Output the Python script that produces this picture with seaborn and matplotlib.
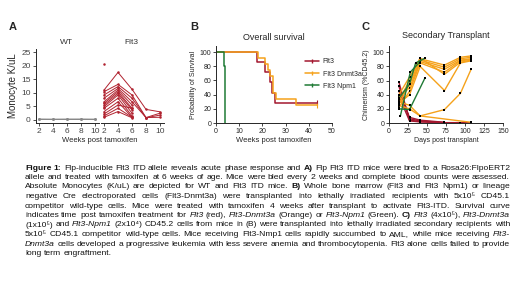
import numpy as np
import pandas as pd
import matplotlib
matplotlib.use("Agg")
import matplotlib.pyplot as plt
import seaborn as sns
from matplotlib.lines import Line2D

# ---------------- data ----------------
# Panel A: monocytes (K/uL) by weeks post tamoxifen
a_weeks = [2, 4, 6, 8, 10]
a_wt = [
    [0.3, 0.3, 0.3, 0.3, 0.3],
    [0.2, 0.2, 0.25, 0.2, 0.2],
    [0.35, 0.3, 0.3, 0.35, 0.3],
]
a_flt3 = [
    [11.0, 17.5, 11.3, 3.9, 3.0],
    [10.4, 13.1, 9.2, 0.9, 2.5],
    [9.2, 12.3, 8.0, 0.8, 1.8],
    [8.0, 11.6, 6.7, 0.9, 1.0],
    [6.7, 11.0, 5.5, None, None],
    [6.1, 10.4, 4.3, None, None],
    [5.5, 9.8, 3.7, None, None],
    [4.9, 9.2, 2.5, None, None],
    [4.3, 8.0, 1.5, None, None],
    [3.1, 6.7, 1.0, None, None],
    [2.2, 5.5, 4.3, None, None],
    [1.5, 4.3, 1.0, None, None],
    [1.0, 3.1, 0.8, None, None],
    [20.6, None, None, None, None],
]

# Panel B: Kaplan-Meier survival (weeks, % surviving)
b_flt3_t = [0, 17.5, 21.0, 23.3, 24.0, 25.6, 43.5]
b_flt3_s = [100, 85.7, 71.4, 57.1, 42.9, 28.6, 28.6]
b_dnmt3a_t = [0, 18.3, 21.2, 22.2, 23.3, 24.6, 26.0, 34.5, 43.5]
b_dnmt3a_s = [100, 91.7, 83.3, 75.0, 66.7, 41.7, 33.3, 25.0, 25.0]
b_npm1_t = [0, 3.6, 4.0]
b_npm1_s = [100, 80, 0]
b_labels = ["Flt3", "Flt3 Dnmt3a", "Flt3 Npm1"]

# Panel C: chimerism (%CD45.2) by days post transplant, one list per mouse
c_days_full = [13, 27, 41, 73, 94, 108]
c_dnmt3a = [
    (c_days_full, [32, 60, 91, 82, 93, 95]),
    (c_days_full, [27, 55, 89, 79, 91, 93]),
    (c_days_full, [36, 50, 87, 76, 89, 91]),
    (c_days_full, [22, 45, 85, 72, 88, 90]),
    (c_days_full, [40, 65, 92, 69, 86, 89]),
    (c_days_full, [28, 40, 80, 46, 85, 88]),
    (c_days_full, [25, 20, 10, 19, 42, 76]),
    ([13, 27, 41, 108], [30, 25, 10, 1]),
]
c_flt3 = [
    (c_days_full, [58, 4, 2, 0.5, 0.5, 0.5]),
    ([13, 27, 41, 73], [52, 6, 3, 0.5]),
    ([13, 27, 41, 73], [45, 8, 4, 1]),
    ([13, 27, 41, 73], [38, 3, 1.5, 0.3]),
]
c_npm1 = [
    ([15, 28, 41], [10, 72, 87]),
    ([13, 27, 47], [20, 19, 63]),
    ([13, 27, 35, 48], [35, 55, 85, 92]),
]

RED = "#a3172f"
RED_A = "#b0222f"
ORANGE = "#f5a21b"
GREEN = "#1f7a35"

caption = [
    "!Figure !1: Flp-inducible Flt3 ITD allele reveals acute phase response and !A) Flp Flt3 ITD mice were bred to a Rosa26:FlpoERT2",
    "allele and treated with tamoxifen at 6 weeks of age. Mice were bled every 2 weeks and complete blood counts were assessed.",
    "Absolute Monocytes (K/uL) are depicted for WT and Flt3 ITD mice. !B) Whole bone marrow (Flt3 and Flt3 Npm1) or lineage",
    "negative Cre electroporated cells (Flt3-Dnmt3a) were transplanted into lethally irradiated recipients with 5x10\u2075 CD45.1",
    "competitor wild-type cells.  Mice were treated with tamoxifen 4 weeks after transplant to activate Flt3-ITD. Survival curve",
    "indicates time post tamoxifen treatment for *Flt3 (red), *Flt3-Dnmt3a (Orange) or *Flt3-Npm1 (Green). !C) *Flt3 (4x10\u2075), *Flt3-Dnmt3a",
    "(1x10\u2075) and *Flt3-Npm1 (2x10\u2074) CD45.2 cells from mice in (B) were transplanted into lethally irradiated secondary recipients with",
    "5x10\u2075 CD45.1 competitor wild-type cells. Mice receiving Flt3-Nmp1 cells rapidly succumbed to AML, while mice receiving *Flt3-",
    "*Dnmt3a cells developed a progressive leukemia with less severe anemia and thrombocytopenia. Flt3 alone cells failed to provide",
    "long term engraftment.",
]

# ---------------- figure ----------------
sns.set_theme(style="ticks")
FAM = ["Liberation Sans", "DejaVu Sans"]
plt.rcParams["font.family"] = FAM
plt.rcParams["axes.linewidth"] = 0.7
plt.rcParams["xtick.major.width"] = 0.6
plt.rcParams["ytick.major.width"] = 0.6
plt.rcParams["xtick.major.size"] = 2
plt.rcParams["ytick.major.size"] = 2
plt.rcParams["xtick.major.pad"] = 1.5
plt.rcParams["ytick.major.pad"] = 1.5

W, H = 520, 293
fig = plt.figure(figsize=(W / 100, H / 100), dpi=100)
fig.patch.set_facecolor("white")


def ax_px(l, r, t, b):
    return fig.add_axes([l / W, 1 - b / H, (r - l) / W, (b - t) / H])


def fig_text(x, y, s, **kw):
    return fig.text(x / W, 1 - y / H, s, **kw)


# ---------- Panel A ----------
rows = []
for i, m in enumerate(a_wt):
    for w, v in zip(a_weeks, m):
        if v is not None:
            rows.append(("WT", f"wt{i}", w, v))
for i, m in enumerate(a_flt3):
    for w, v in zip(a_weeks, m):
        if v is not None:
            rows.append(("Flt3", f"f{i}", w, v))
dfa = pd.DataFrame(rows, columns=["group", "mouse", "week", "mono"])

axA1 = ax_px(35.5, 98.5, 49.3, 122.7)
axA2 = ax_px(100.5, 163.5, 49.3, 122.7)
sns.lineplot(data=dfa[dfa.group == "WT"], x="week", y="mono", units="mouse",
             estimator=None, color="#888888", lw=0.7, marker="o", markersize=1.8,
             markeredgewidth=0, ax=axA1)
sns.lineplot(data=dfa[dfa.group == "Flt3"], x="week", y="mono", units="mouse",
             estimator=None, color=RED_A, lw=0.7, marker="o", markersize=1.8,
             markeredgewidth=0, ax=axA2)
for ax in (axA1, axA2):
    ax.set_xlim(1.5, 10.5)
    ax.set_ylim(-1, 26)
    ax.set_xticks(a_weeks)
    ax.set_yticks([0, 5, 10, 15, 20, 25])
    ax.tick_params(labelsize=6, colors="#333333", labelcolor="#444444")
    ax.set_xlabel("")
    ax.set_ylabel("")
    sns.despine(ax=ax)
    ax.set_facecolor("none")
axA2.spines["left"].set_visible(False)
axA2.tick_params(left=False, labelleft=False)
axA1.set_ylabel("Monocyte K/uL", fontsize=7, labelpad=2)
fig_text(66.5, 43, "WT", fontsize=6, ha="center", va="center", color="#333333")
fig_text(131.5, 43, "Flt3", fontsize=6, ha="center", va="center", color="#333333")
fig_text(99.5, 140, "Weeks post tamoxifen", fontsize=5.5, ha="center", va="center")
fig_text(13, 27, "A", fontsize=8, fontweight="bold", ha="center", va="center")

# ---------- Panel B ----------
dfb = pd.concat([
    pd.DataFrame({"t": b_flt3_t, "s": b_flt3_s, "g": b_labels[0]}),
    pd.DataFrame({"t": b_dnmt3a_t, "s": b_dnmt3a_s, "g": b_labels[1]}),
    pd.DataFrame({"t": b_npm1_t, "s": b_npm1_s, "g": b_labels[2]}),
])
pal = {b_labels[0]: RED, b_labels[1]: ORANGE, b_labels[2]: GREEN}
axB = ax_px(216, 332, 46, 123)
sns.lineplot(data=dfb, x="t", y="s", hue="g", palette=pal, estimator=None,
             drawstyle="steps-post", lw=1.1, legend=False, ax=axB)
cens = dfb.groupby("g").tail(1)
cens = cens[cens.s > 0]
sns.scatterplot(data=cens, x="t", y="s", hue="g", palette=pal, marker="|",
                s=12, linewidth=0.8, legend=False, ax=axB)
axB.set_xlim(0, 50)
axB.set_ylim(0, 108.5)
axB.set_xticks([0, 10, 20, 30, 40, 50])
axB.set_yticks([0, 20, 40, 60, 80, 100])
axB.tick_params(labelsize=5)
axB.set_xlabel("")
axB.set_ylabel("Probability of Survival", fontsize=5, labelpad=2)
sns.despine(ax=axB)
axB.set_facecolor("none")
handles = [Line2D([], [], color=pal[k], lw=1.1, marker="|", markersize=3) for k in b_labels]
fig.legend(handles, b_labels, loc="upper left", bbox_to_anchor=(302 / W, 1 - 55 / H),
           frameon=False, fontsize=5, handlelength=2.0, handletextpad=0.5,
           labelspacing=0.75, borderpad=0)
fig_text(274, 37, "Overall survival", fontsize=6.5, ha="center", va="center")
fig_text(274, 140, "Weeks post tamoxifen", fontsize=5.5, ha="center", va="center")
fig_text(194, 27, "B", fontsize=8, fontweight="bold", ha="center", va="center")

# ---------- Panel C ----------
rows = []
for grp, mice in (("Flt3", c_flt3), ("Flt3 Dnmt3a", c_dnmt3a), ("Flt3 Npm1", c_npm1)):
    for i, (d, v) in enumerate(mice):
        for dd, vv in zip(d, v):
            rows.append((grp, f"{grp}{i}", dd, vv))
dfc = pd.DataFrame(rows, columns=["g", "mouse", "day", "chim"])
axC = ax_px(389, 503, 46, 123)
sns.lineplot(data=dfc, x="day", y="chim", hue="g", units="mouse", estimator=None,
             palette=pal, lw=1.0, marker="s", markersize=1.6,
             markerfacecolor="black", markeredgecolor="black", markeredgewidth=0,
             legend=False, ax=axC)
axC.set_xlim(0, 150)
axC.set_ylim(0, 109)
axC.set_xticks([0, 25, 50, 75, 100, 125, 150])
axC.set_yticks([0, 20, 40, 60, 80, 100])
axC.tick_params(labelsize=5)
axC.set_xlabel("")
axC.set_ylabel("Chimerism (%CD45.2)", fontsize=5, labelpad=2)
sns.despine(ax=axC)
axC.set_facecolor("none")
fig_text(446, 36, "Secondary Transplant", fontsize=6.5, ha="center", va="center")
fig_text(446, 140, "Days post transplant", fontsize=5, ha="center", va="center")
fig_text(366, 27, "C", fontsize=8, fontweight="bold", ha="center", va="center")

# ---------- Caption (justified) ----------
renderer = fig.canvas.get_renderer()
X0, X1 = 25, 510
FS = 6.1
sp1 = fig_text(0, 0, "a a", fontsize=FS, family=FAM)
sp2 = fig_text(0, 0, "aa", fontsize=FS, family=FAM)
SW = sp1.get_window_extent(renderer).width - sp2.get_window_extent(renderer).width
sp1.remove(); sp2.remove()
for li, line in enumerate(caption):
    y = 168 + 9.5 * li
    toks = [w for w in line.split(" ") if w != ""]
    texts = []
    for tk in toks:
        kw = dict(fontsize=FS, va="center", ha="left", color="#111111", family=FAM)
        if tk.startswith("!"):
            tk = tk[1:]
            kw["fontweight"] = "bold"
        elif tk.startswith("*"):
            tk = tk[1:]
            kw["fontstyle"] = "italic"
        texts.append(fig_text(0, y, tk, **kw))
    widths = [t.get_window_extent(renderer).width for t in texts]
    if li < len(caption) - 1 and len(texts) > 1:
        gap = (X1 - X0 - sum(widths)) / (len(texts) - 1)
        gap = max(gap, 0.6 * SW)
    else:
        gap = SW
    x = X0
    for t, wdt in zip(texts, widths):
        t.set_x(x / W)
        x += wdt + gap

fig.savefig("out.png", dpi=100, facecolor="white")
